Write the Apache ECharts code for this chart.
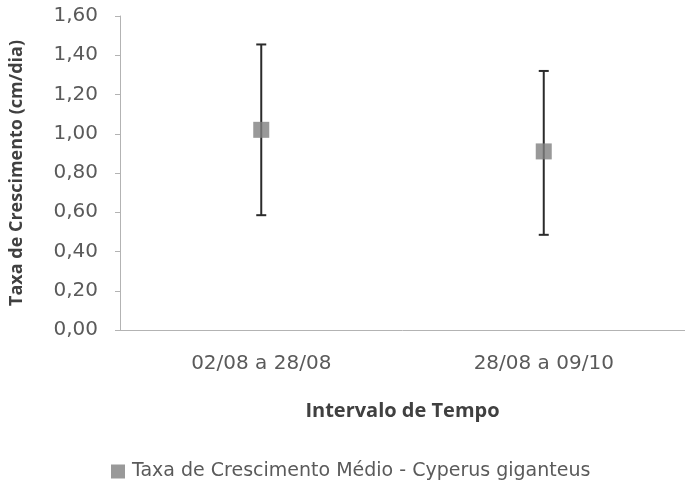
<!DOCTYPE html>
<html>
<head>
<meta charset="utf-8">
<script src="https://cdn.jsdelivr.net/npm/echarts@6/dist/echarts.min.js"></script>
<style>
html,body{margin:0;padding:0;background:#fff;}
#c{width:685px;height:495px;}
</style>
</head>
<body>
<div id="c"></div>
<script>
const categories = ['02/08 a 28/08', '28/08 a 09/10'];
const meanValues = [1.02, 0.91];
const lowValues = [0.585, 0.485];
const highValues = [1.455, 1.32];
const seriesName = 'Taxa de Crescimento Médio - Cyperus giganteus';
const yAxisTitle = 'Taxa de Crescimento (cm/dia)';
const xAxisTitle = 'Intervalo de Tempo';

const FONT = '"Open Sans", sans-serif';
const TICKFONT = '"DejaVu Sans", sans-serif';
const chart = echarts.init(document.getElementById('c'));
const errData = categories.map((c, i) => [i, lowValues[i], highValues[i]]);

chart.setOption({
  animation: false,
  backgroundColor: '#ffffff',
  grid: { left: 115, top: 16, height: 314, width: 574, containLabel: false },
  legend: {
    data: [seriesName],
    top: 457,
    left: 106,
    icon: 'rect',
    itemWidth: 14,
    itemHeight: 14,
    itemGap: 7,
    textStyle: { fontFamily: TICKFONT, fontSize: 19, color: '#5a5a5a', padding: [0, 0, 0, 2] }
  },
  xAxis: {
    type: 'category',
    data: categories,
    boundaryGap: true,
    name: xAxisTitle,
    nameLocation: 'middle',
    nameGap: 71,
    nameTextStyle: { fontFamily: FONT, fontSize: 20, fontWeight: 'bold', color: '#404040' },
    axisLine: { lineStyle: { color: '#b3b3b3', width: 1 } },
    axisTick: { alignWithLabel: true, length: 5, lineStyle: { color: '#b3b3b3' } },
    axisLabel: { margin: 24, fontFamily: TICKFONT, fontSize: 20, color: '#5a5a5a' },
    splitLine: { show: false }
  },
  yAxis: {
    type: 'value',
    min: 0,
    max: 1.6,
    interval: 0.2,
    name: yAxisTitle,
    nameLocation: 'middle',
    nameGap: 94,
    nameTextStyle: { fontFamily: FONT, fontSize: 18, fontWeight: 'bold', color: '#404040' },
    axisLine: { show: true, lineStyle: { color: '#b3b3b3', width: 1 } },
    axisTick: { show: true, length: 5, lineStyle: { color: '#b3b3b3' } },
    axisLabel: {
      margin: 22,
      fontFamily: TICKFONT,
      fontSize: 20,
      color: '#5a5a5a',
      formatter: v => v.toFixed(2).replace('.', ',')
    },
    splitLine: { show: false }
  },
  series: [
    {
      type: 'custom',
      name: 'err',
      data: errData,
      z: 2,
      renderItem: function (params, api) {
        const x = api.value(0);
        const lo = api.coord([x, api.value(1)]);
        const hi = api.coord([x, api.value(2)]);
        const hw = 5;
        const style = { stroke: '#2b2b2b', lineWidth: 2 };
        return {
          type: 'group',
          children: [
            { type: 'line', shape: { x1: hi[0], y1: hi[1], x2: lo[0], y2: lo[1] }, style: style },
            { type: 'line', shape: { x1: hi[0] - hw, y1: hi[1], x2: hi[0] + hw, y2: hi[1] }, style: style },
            { type: 'line', shape: { x1: lo[0] - hw, y1: lo[1], x2: lo[0] + hw, y2: lo[1] }, style: style }
          ]
        };
      }
    },
    {
      type: 'scatter',
      name: seriesName,
      data: meanValues,
      symbol: 'rect',
      symbolSize: 16,
      z: 5,
      itemStyle: { color: '#808080' }
    }
  ]
});
</script>
</body>
</html>
